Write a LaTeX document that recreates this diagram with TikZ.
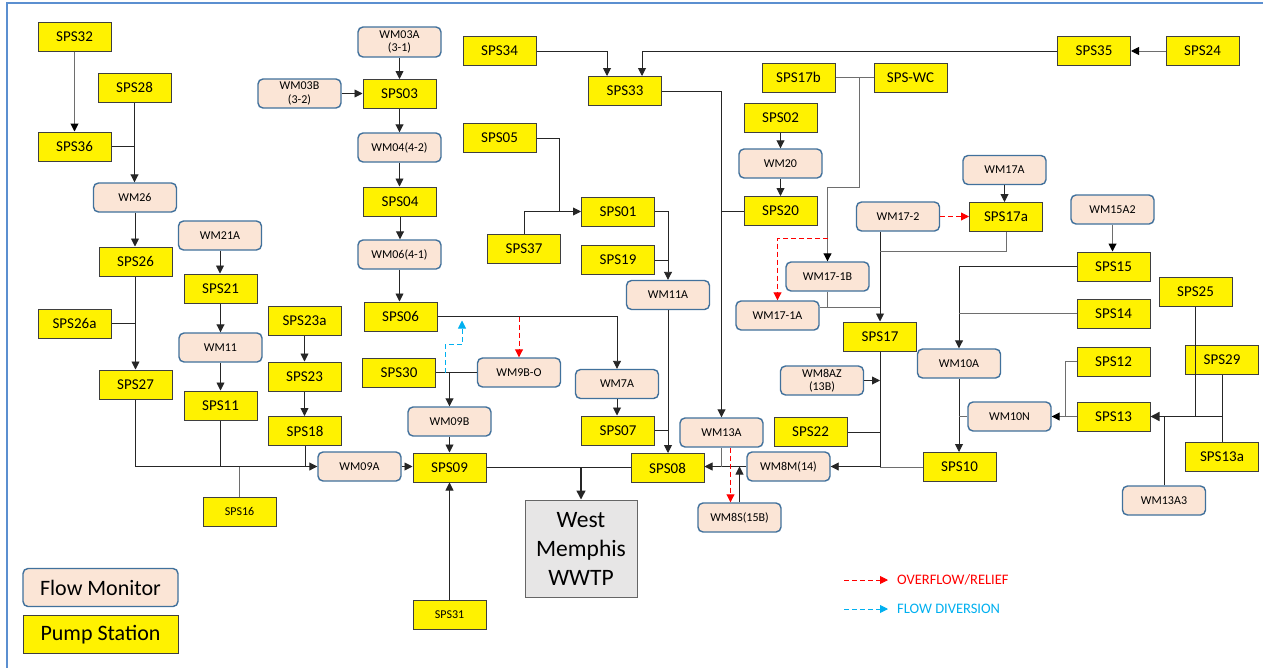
\documentclass[tikz,border=0pt]{standalone}
\usepackage{fontspec}
\setmainfont{Carlito}
\usetikzlibrary{arrows.meta}
\definecolor{fmfill}{HTML}{FBE5D6}
\definecolor{fmborder}{HTML}{41719C}
\definecolor{psborder}{HTML}{3F3F3F}
\definecolor{wwfill}{HTML}{E7E6E6}
\definecolor{frameblue}{HTML}{5B8FD0}
\definecolor{divblue}{HTML}{00B0F0}
\definecolor{lgray}{HTML}{6E6E6E}
\begin{document}
\begin{tikzpicture}[x=1pt,y=-1pt,
  ps/.style={draw=psborder, fill=yellow, line width=1pt, minimum width=73pt, minimum height=29pt, inner sep=0pt, font=\fontsize{15}{17}\selectfont},
  pssmall/.style={ps, font=\fontsize{12}{14}\selectfont},
  fm/.style={draw=fmborder, fill=fmfill, line width=1.4pt, rounded corners=5pt, minimum width=83pt, minimum height=29pt, inner sep=0pt, align=center, font=\fontsize{12}{13.5}\selectfont},
  ln/.style={draw=black!85, line width=0.9pt},
  gln/.style={draw=lgray, line width=1pt},
  ar/.style={ln, -{Triangle[length=8pt,width=8pt]}},
  gar/.style={gln, -{Triangle[length=8pt,width=8pt,color=black]}},
  tar/.style={draw=black!85, line width=1.5pt, -{Triangle[length=9pt,width=9pt]}},
  rar/.style={draw=red, line width=0.9pt, dash pattern=on 5pt off 3pt, -{Triangle[length=8pt,width=8pt]}},
  bar/.style={draw=divblue, line width=0.9pt, dash pattern=on 5pt off 3pt, -{Triangle[length=8pt,width=8pt]}}
]
\useasboundingbox (0,0) rectangle (1263,667);
\fill[white] (0,0) rectangle (1263,667);
\draw[frameblue, line width=2pt] (7,672) -- (7,3) -- (1270,3);

% ---------- nodes ----------
\node[ps] (s32) at (74.5,36.5) {SPS32};
\node[ps] (s28) at (134.5,87.5) {SPS28};
\node[ps] (s36) at (74.5,146.5) {SPS36};
\node[fm] (w26) at (135,197.5) {WM26};
\node[ps] (s26) at (135.5,261.5) {SPS26};
\node[ps] (s26a) at (74.5,323.5) {SPS26a};
\node[ps] (s27) at (135.5,384.5) {SPS27};
\node[fm] (w21a) at (220,235.5) {WM21A};
\node[ps] (s21) at (220.5,288.5) {SPS21};
\node[fm] (w11) at (220.5,347.5) {WM11};
\node[ps] (s11) at (220.5,405.5) {SPS11};
\node[ps] (s23a) at (304.5,320.5) {SPS23a};
\node[ps] (s23) at (304.5,376.5) {SPS23};
\node[ps] (s18) at (305,431) {SPS18};
\node[pssmall] (s16) at (239.5,511.5) {SPS16};

\node[fm, minimum height=30pt] (w03a) at (399.5,42) {WM03A\\(3-1)};
\node[fm] (w03b) at (299.5,93.5) {WM03B\\(3-2)};
\node[ps] (s03) at (399.5,94) {SPS03};
\node[fm] (w04) at (399.5,147.5) {WM04(4-2)};
\node[ps] (s04) at (400,201.5) {SPS04};
\node[fm] (w06) at (399.5,254.5) {WM06(4-1)};
\node[ps] (s06) at (400.5,316.5) {SPS06};
\node[ps] (s30) at (399,372.5) {SPS30};
\node[fm] (w9bo) at (519,372.5) {WM9B-O};
\node[fm] (w09b) at (449.5,421.5) {WM09B};
\node[fm] (w09a) at (359.5,466.5) {WM09A};
\node[ps] (s09) at (449.5,467.5) {SPS09};
\node[pssmall] (s31) at (449.5,615) {SPS31};
\node[draw=black!60, fill=wwfill, line width=1pt, minimum width=112pt, minimum height=97pt, inner sep=0pt, align=center, font=\fontsize{23.5}{29}\selectfont] (wwtp) at (581,548.5) {West\\Memphis\\WWTP};

\node[ps] (s34) at (499.5,51) {SPS34};
\node[ps] (s05) at (499.5,138) {SPS05};
\node[ps] (s37) at (524,248.5) {SPS37};
\node[ps] (s33) at (625,91) {SPS33};
\node[ps] (s01) at (618,211.5) {SPS01};
\node[ps] (s19) at (618,260) {SPS19};
\node[fm] (w11a) at (668,295) {WM11A};
\node[fm] (w7a) at (617,384) {WM7A};
\node[ps] (s07) at (618,430.5) {SPS07};
\node[ps] (s08) at (667.5,468) {SPS08};
\node[fm] (w13a) at (721.5,432.5) {WM13A};
\node[fm] (w8m) at (788.5,466.5) {WM8M(14)};
\node[fm] (w8s) at (739.5,517.5) {WM8S(15B)};

\node[ps] (s02) at (780.5,117.5) {SPS02};
\node[fm] (w20) at (780.5,163.5) {WM20};
\node[ps] (s20) at (780.5,211) {SPS20};
\node[ps] (s17b) at (798.5,77.5) {SPS17b};
\node[ps] (swc) at (910.5,77.5) {SPS-WC};
\node[ps] (s35) at (1094,51) {SPS35};
\node[ps] (s24) at (1202.5,51) {SPS24};
\node[fm] (w172) at (898,216.5) {WM17-2};
\node[fm] (w171b) at (827.5,276.5) {WM17-1B};
\node[fm] (w171a) at (777.5,315.5) {WM17-1A};
\node[ps] (s17) at (880,336.5) {SPS17};
\node[fm] (w8az) at (822,380.5) {WM8AZ\\(13B)};
\node[ps] (s22) at (810.5,432) {SPS22};
\node[ps] (s10) at (959.5,467) {SPS10};

\node[fm] (w17a) at (1004.5,170) {WM17A};
\node[ps] (s17a) at (1006,217) {SPS17a};
\node[fm] (w15a2) at (1112.5,209.5) {WM15A2};
\node[ps] (s15) at (1113.5,266.5) {SPS15};
\node[ps] (s14) at (1113.5,313.5) {SPS14};
\node[fm] (w10a) at (959,363.5) {WM10A};
\node[ps] (s12) at (1113.5,361.5) {SPS12};
\node[ps] (s13) at (1113.5,416.5) {SPS13};
\node[fm] (w10n) at (1009.5,416.5) {WM10N};
\node[ps] (s25) at (1195.5,291.5) {SPS25};
\node[ps] (s29) at (1222,360) {SPS29};
\node[ps] (s13a) at (1222,456.5) {SPS13a};
\node[fm] (w13a3) at (1164,500.5) {WM13A3};

% legend
\node[fm, minimum width=155pt, minimum height=38pt, font=\fontsize{22}{26}\selectfont] (lfm) at (100.5,587.5) {Flow Monitor};
\node[ps, minimum width=155pt, minimum height=38pt, font=\fontsize{22}{26}\selectfont] (lps) at (100.5,634.5) {Pump Station};
\node[anchor=west, text=red, inner sep=0pt, font=\fontsize{14.5}{16}\selectfont] (lov) at (897,580) {OVERFLOW/RELIEF};
\node[anchor=west, text=divblue, inner sep=0pt, font=\fontsize{14.5}{16}\selectfont] (ldv) at (897,609) {FLOW DIVERSION};
\draw[rar] ([xshift=-53pt]lov.west) -- ([xshift=-9pt]lov.west);
\draw[bar] ([xshift=-53pt]ldv.west) -- ([xshift=-9pt]ldv.west);

% ---------- connectors ----------
% left column
\draw[gar] (s32.south) -- (s36.north);
\draw[ar] (s28.south) -- (s28.south |- w26.north);
\draw[ln] (s36.east) -- (s36.east -| s28.south);
\draw[ar] (w26.south) -- (w26.south |- s26.north);
\draw[ar] (s26.south) -- (s27.north);
\draw[ln] (s26a.east) -- (s26a.east -| s26.south);
\draw[ar] (w21a.south) -- (w21a.south |- s21.north);
\draw[ar] (s21.south) -- (s21.south |- w11.north);
\draw[ar] (w11.south) -- (w11.south |- s11.north);
\draw[ar] (s23a.south) -- (s23a.south |- s23.north);
\draw[ar] (s23.south) -- (s23.south |- s18.north);
\draw[ar] (s27.south) |- (w09a.west);
\draw[ln] (s11.south) -- (s11.south |- w09a.west);
\draw[ln] (s18.south) -- (s18.south |- w09a.west);
\draw[gln] (s16.north) -- (s16.north |- w09a.west);

% middle column
\draw[ar] (w03a.south) -- (w03a.south |- s03.north);
\draw[ar] (w03b.east) -- (w03b.east -| s03.west);
\draw[ar] (s03.south) -- (s03.south |- w04.north);
\draw[ar] (w04.south) -- (w04.south |- s04.north);
\draw[ar] (s04.south) -- (s04.south |- w06.north);
\draw[ar] (w06.south) -- (w06.south |- s06.north);
\draw[ar] (s06.east) -| (w7a.north);
\draw[rar] (s06.east -| w9bo.north) -- (w9bo.north);
\draw[ln] (s30.east) -- (w9bo.west);
\draw[ar] (s30.east -| w09b.north) -- (w09b.north);
\draw[ar] (w09b.south) -- (w09b.south |- s09.north);
\draw[bar] ([xshift=9pt]s30.east) -- ++(0,-28) -- ++(17,0) -- ++(0,-24);
\draw[ar] (w09a.east) -- (w09a.east -| s09.west);
\draw[ln] (s09.east) -- (s09.east -| s08.west);
\draw[tar] (s09.east -| wwtp.north) -- (wwtp.north);
\draw[ar] (s31.north) -- (s31.north |- s09.south);

% top centre
\draw[ar] (s34.east) -| ([xshift=19pt]s33.north west);
\draw[gar] (s24.west) -- (s24.west -| s35.east);
\draw[ar] (s35.west) -| ([xshift=54pt]s33.north west);
\draw[ar] (s33.east) -| (w13a.north);
\draw[ln] (s20.west) -- (s20.west -| w13a.north);
\draw[ar] (s02.south) -- (s02.south |- w20.north);
\draw[ar] (w20.south) -- (w20.south |- s20.north);
\coordinate (j1) at (559,211.5);
\draw[ar] (s05.east) -| (j1) -- (s01.west);
\draw[ln] (s37.north) |- (j1);
\draw[ar] (s01.east) -| (w11a.north);
\draw[ln] (s19.east) -- (s19.east -| w11a.north);
\draw[ar] (w11a.south) -- (w11a.south |- s08.north);
\draw[ln] (s07.east) -- (s07.east -| w11a.south);
\draw[ar] (w7a.south) -- (w7a.south |- s07.north);

% around SPS08 / WM8M
\draw[ar] (w8m.west) -- (w8m.west -| s08.east);
\draw[gln] (w13a.south) -- (w13a.south |- w8m.west);
\draw[rar] ([xshift=9pt]w13a.south) -- ([xshift=9pt]w13a.south |- w8s.north);
\draw[ar] (w8s.north) -- (w8s.north |- w8m.west);
\draw[ar] (s17.south) |- (w8m.east);
\draw[ar] (w8az.east) -- (w8az.east -| s17.south);
\draw[ln] (s22.east) -- (s22.east -| s17.south);
\draw[gln] (s10.west) -- (s10.west -| s17.south);

% SPS17 group
\draw[ar] (w172.south -| s17.north) -- (s17.north);
\coordinate (j2) at (880,251);
\draw[gln] (s17a.south) |- (j2);
\draw[gln] (s17b.east) -- (swc.west);
\coordinate (j3) at (859,187);
\draw[gar] (s17b.east -| j3) -- (j3) -| (w171b.north);
\coordinate (j4) at (828,238);
\draw[rar] (j4) -| (w171a.north);
\coordinate (j5) at ([yshift=8.5pt]w171a.east);
\draw[gln] (j5) -- (j5 -| s17.north);
\draw[gln] (w171b.south) -- (w171b.south |- j5);
\draw[rar] (w172.east) -- (w172.east -| s17a.west);
\draw[ar] (w17a.south) -- (w17a.south |- s17a.north);

% right group
\draw[gar] (w15a2.south) -- (w15a2.south |- s15.north);
\draw[ar] (s15.west) -| (w10a.north);
\draw[gln] (s14.west) -- (s14.west -| w10a.north);
\draw[ar] (w10a.south) -- (w10a.south |- s10.north);
\draw[gln] (w10n.west) -- (w10n.west -| w10a.south);
\draw[gar] (s13.west) -- (w10n.east);
\draw[gln] (s12.west) -| ([xshift=-11pt]s13.west);
\draw[ln] (s29.south) -- (s13a.north);
\draw[tar] (s29.south |- s13.east) -- (s13.east);
\draw[ln] (s25.south) -- (s25.south |- s13.east);
\draw[ln] (w13a3.north) -- (w13a3.north |- s13.east);
\end{tikzpicture}
\end{document}
